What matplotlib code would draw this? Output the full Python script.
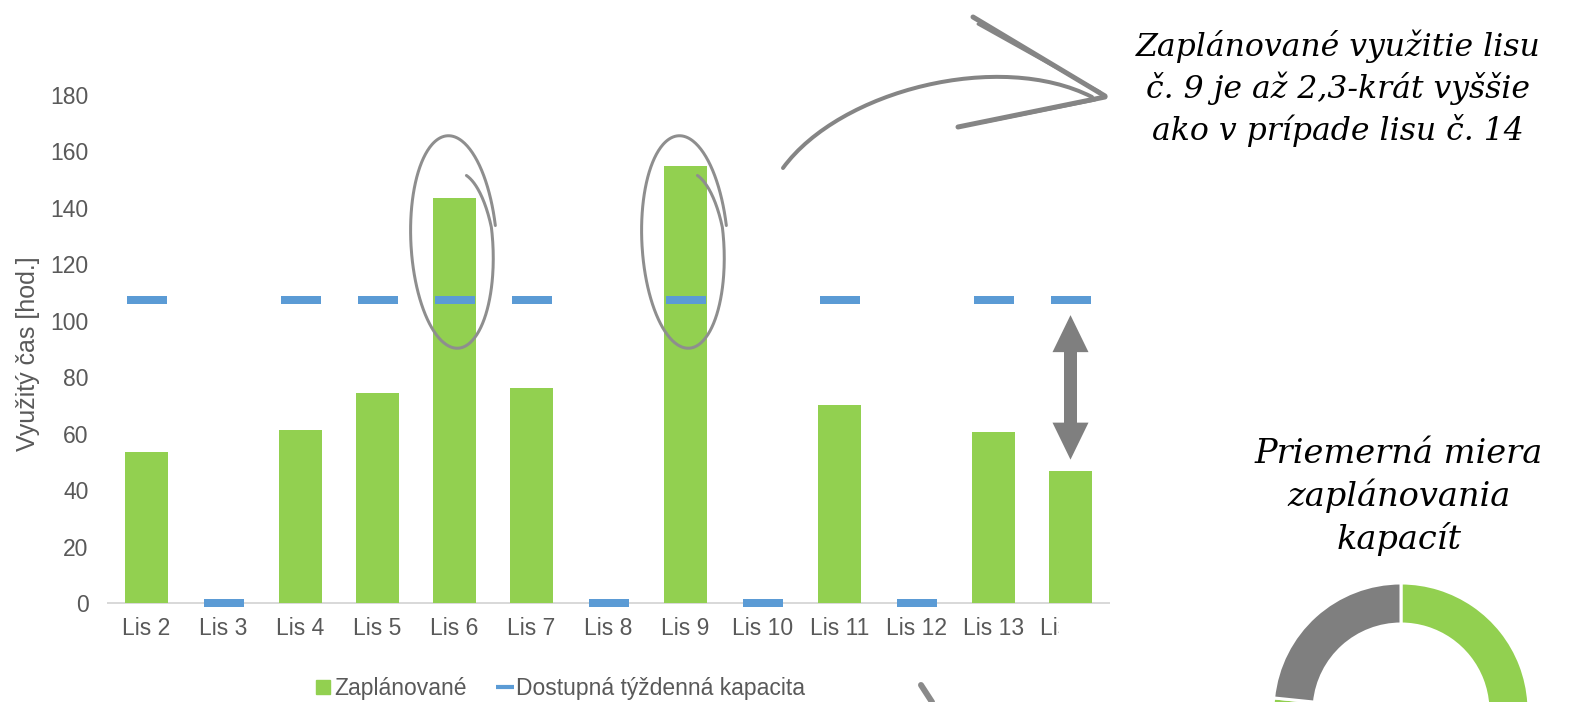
import numpy as np
import matplotlib
matplotlib.use("Agg")
import matplotlib.pyplot as plt
from matplotlib.lines import Line2D
from matplotlib.patches import Polygon, Rectangle, PathPatch
from matplotlib.path import Path
from matplotlib.transforms import IdentityTransform

# ---------------- data ----------------
categories = ["Lis 2", "Lis 3", "Lis 4", "Lis 5", "Lis 6", "Lis 7", "Lis 8",
              "Lis 9", "Lis 10", "Lis 11", "Lis 12", "Lis 13", "Lis 14"]
planned = [53.5, 0, 61.3, 74.4, 143.5, 76.2, 0, 154.9, 0, 70.2, 0, 60.6, 46.8]
capacity = [107.5, 0, 107.5, 107.5, 107.5, 107.5, 0, 107.5, 0, 107.5, 0, 107.5, 107.5]
y_ticks = [0, 20, 40, 60, 80, 100, 120, 140, 160, 180]
series_names = ["Zaplánované", "Dostupná týždenná kapacita"]
y_label = "Využitý čas [hod.]"
highlighted = ["Lis 6", "Lis 9"]
compare_pair = "Lis 14"
callout_text = "Zaplánované využitie lisu\nč. 9 je až 2,3-krát vyššie\nako v prípade lisu č. 14"
donut_title = "Priemerná miera\nzaplánovania\nkapacít"
utilization = sum(planned) / sum(capacity) * 100  # ~76.6 %
donut_values = [utilization, 100 - utilization]

GREEN = "#92D050"
BLUE = "#5B9BD5"
GREY = "#7F7F7F"
TXT = "#595959"
PT = 0.72  # points per pixel at 100 dpi

W, H = 1570, 702
fig = plt.figure(figsize=(W / 100, H / 100), dpi=100)
plt.rcParams["font.family"] = ["Liberation Sans", "DejaVu Sans"]

# ---------------- bar chart ----------------
ax = fig.add_axes([108 / W, 1 - 603 / H, 1001 / W, 508 / H])
x = np.arange(len(categories))
ax.bar(x, planned, width=0.57, color=GREEN, zorder=2)
ax.plot(x, capacity, ls="none", marker="_", ms=40 * PT, mew=8 * PT,
        color=BLUE, clip_on=False, zorder=3)
ax.set_xlim(-0.5, len(categories) - 0.5)
ax.set_ylim(0, 180)
ax.set_yticks(y_ticks)
ax.set_xticks(x)
ax.set_xticklabels(categories)
for s in ["top", "right", "left"]:
    ax.spines[s].set_visible(False)
ax.spines["bottom"].set_color("#D9D9D9")
ax.spines["bottom"].set_linewidth(2 * PT)
ax.spines["bottom"].set_zorder(1)
ax.tick_params(axis="both", length=0, colors=TXT, labelsize=16.5)
ax.tick_params(axis="y", pad=14)
ax.tick_params(axis="x", pad=10)
ax.set_ylabel(y_label, fontsize=18, color=TXT)
ax.yaxis.set_label_coords(-0.068, 0.49)

# the last category label is cut off in the reference
fig.add_artist(Rectangle((1059, H - 660), 60, 45, transform=IdentityTransform(),
                         facecolor="white", edgecolor="none", zorder=10))

# legend
handles = [Line2D([], [], marker="s", color=GREEN, ls="none", ms=10.5),
           Line2D([], [], marker="_", color=BLUE, ls="none", ms=13, mew=3)]
fig.legend(handles, series_names, loc="center", bbox_to_anchor=(560 / W, 1 - 689 / H),
           ncol=2, frameon=False, fontsize=16.5, handlelength=0.7, handletextpad=0.15,
           columnspacing=1.3, labelcolor=TXT)

# ---------------- hand-drawn highlight ellipses ----------------
def spiral(cx, cy, rx, ry, tilt_deg):
    t1 = np.linspace(0.15, 0.15 + 2 * np.pi, 300)
    r1 = np.linspace(1.07, 0.97, 300)
    t2 = np.linspace(0.15 + 2 * np.pi, 2 * np.pi + 1.0, 60)
    r2 = np.linspace(0.97, 0.78, 60)
    t = np.concatenate([t1, t2])
    r = np.concatenate([r1, r2])
    ex = r * rx * np.cos(t)
    ey = r * ry * np.sin(t)
    a = np.deg2rad(tilt_deg)
    return cx + ex * np.cos(a) - ey * np.sin(a), cy + ex * np.sin(a) + ey * np.cos(a)

for name in highlighted:
    i = categories.index(name)
    cx, cy = ax.transData.transform((i - 0.02, 127))
    xs, ys = spiral(cx, cy, 41, 104, 3.2)
    fig.add_artist(Line2D(xs, ys, transform=IdentityTransform(), color="#8E8E8E",
                          lw=3 * PT, solid_capstyle="round", zorder=5))

# ---------------- double-headed arrow (capacity vs plan for Lis 14) ----------------
k = categories.index(compare_pair)
cxp, yt = ax.transData.transform((k, capacity[k] - 5.5))
_, yb = ax.transData.transform((k, planned[k] + 4))
hl, hw, sw = 37, 18, 6.5
pts = [(cxp, yt), (cxp + hw, yt - hl), (cxp + sw, yt - hl), (cxp + sw, yb + hl),
       (cxp + hw, yb + hl), (cxp, yb), (cxp - hw, yb + hl), (cxp - sw, yb + hl),
       (cxp - sw, yt - hl), (cxp - hw, yt - hl)]
fig.add_artist(Polygon(pts, closed=True, transform=IdentityTransform(),
                       facecolor=GREY, edgecolor="none", zorder=6))

# ---------------- hand-drawn callout arrow ----------------
def P(px, py):
    return (px, H - py)

curve = Path([P(783, 168), P(840, 90), P(1000, 50), P(1092, 97)],
             [Path.MOVETO, Path.CURVE4, Path.CURVE4, Path.CURVE4])
fig.add_artist(PathPatch(curve, transform=IdentityTransform(), facecolor="none",
                         edgecolor="#858585", lw=4 * PT, capstyle="round", zorder=5))
for (x0, y0), (x1, y1), w in [((973, 17), (1105, 96), 5), ((978, 24), (1100, 92), 3),
                              ((958, 127), (1105, 97), 5), ((985, 122), (1095, 100), 3)]:
    fig.add_artist(Line2D([P(x0, y0)[0], P(x1, y1)[0]], [P(x0, y0)[1], P(x1, y1)[1]],
                          transform=IdentityTransform(), color="#858585", lw=w * PT,
                          solid_capstyle="round", zorder=5))
# fragment of another arrow at the bottom edge
fig.add_artist(Line2D([P(921, 685)[0], P(932, 702)[0]], [P(921, 685)[1], P(932, 702)[1]],
                      transform=IdentityTransform(), color="#8A8A8A", lw=6 * PT,
                      solid_capstyle="round", zorder=5))

# ---------------- texts ----------------
serif = dict(family=["DejaVu Serif"], style="italic", color="black")
fig.text(1338 / W, 1 - 88 / H, callout_text, ha="center", va="center", fontsize=22.7,
         linespacing=1.34, **serif)
fig.text(1399 / W, 1 - 497 / H, donut_title, ha="center", va="center", fontsize=24.2,
         linespacing=1.33, **serif)

# ---------------- donut ----------------
R = 128
ax2 = fig.add_axes([(1401 - R) / W, (H - 711 - R) / H, 2 * R / W, 2 * R / H])
ax2.pie(donut_values, colors=[GREEN, GREY], startangle=90, counterclock=False,
        radius=1, wedgeprops=dict(width=41 / R, edgecolor="white", linewidth=3 * PT))
ax2.set_xlim(-1, 1)
ax2.set_ylim(-1, 1)
ax2.set_aspect("equal")
ax2.axis("off")

fig.savefig("out.png", dpi=100)
